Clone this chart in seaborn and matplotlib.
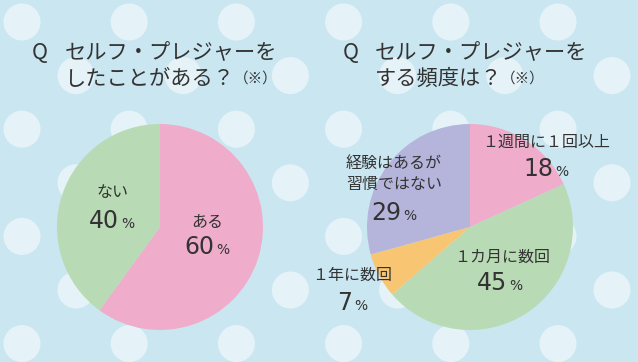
import matplotlib
matplotlib.use("Agg")
import matplotlib.pyplot as plt
from matplotlib.patches import Circle
import seaborn as sns

# --- data -------------------------------------------------------------
q1_title = ["セルフ・プレジャーを", "したことがある？"]
q1_labels = ["ある", "ない"]
q1_values = [60, 40]

q2_title = ["セルフ・プレジャーを", "する頻度は？"]
q2_labels = ["１週間に１回以上", "１カ月に数回", "１年に数回", "経験はあるが\n習慣ではない"]
q2_values = [18, 45, 7, 29]

note = "（※）"

# --- style ------------------------------------------------------------
W, H = 638, 362
BG = "#cae7f1"
DOT = "#e5f3f9"
TXT = "#333333"
PINK = "#efadcb"
GREEN = "#b8dab4"
ORANGE = "#f8c572"
PURPLE = "#b5b5dc"

sns.set_theme(style="white")
plt.rcParams["font.family"] = ["Noto Sans CJK JP", "DejaVu Sans"]

fig = plt.figure(figsize=(W / 100, H / 100), dpi=100, facecolor=BG)
ax = fig.add_axes([0, 0, 1, 1])
ax.set_facecolor(BG)


def sy(y):
    # screen y (top-down) -> data y
    return H - y


# polka dots
row = 0
y = 22.0
while y < H + 30:
    x = 22.0 if row % 2 == 0 else 76.0
    while x < W + 30:
        ax.add_patch(Circle((x, sy(y)), 18.5, color=DOT, lw=0, zorder=0))
        x += 107.2
    y += 53.6
    row += 1

# pies
ax.pie(q1_values, colors=[PINK, GREEN], startangle=90, counterclock=False,
       center=(160, sy(227)), radius=103, wedgeprops=dict(linewidth=0))
ax.pie(q2_values, colors=[PINK, GREEN, ORANGE, PURPLE], startangle=90,
       counterclock=False, center=(470, sy(227)), radius=103,
       wedgeprops=dict(linewidth=0))

ax.set_xlim(0, W)
ax.set_ylim(0, H)
ax.set_aspect("equal")
ax.axis("off")


def title(qx, tx, lines):
    ax.text(qx, sy(53), "Q", ha="center", va="center", fontsize=15.5, color=TXT)
    ax.text(tx, sy(53), lines[0], ha="left", va="center", fontsize=15.3, color=TXT)
    t2 = ax.text(tx, sy(79), lines[1], ha="left", va="center", fontsize=15.3, color=TXT)
    ax.annotate(note, xy=(1, 0.5), xycoords=t2, xytext=(-1, 0),
                textcoords="offset points", ha="left", va="center",
                fontsize=10.5, color=TXT)


title(40, 65, q1_title)
title(351, 375, q2_title)


def label(cx, cy, text, num, base, dx=7):
    ax.text(cx, sy(cy), text, ha="center", va="center", fontsize=11.5,
            color=TXT, linespacing=1.35)
    ax.text(cx + dx, sy(base), str(num), ha="right", va="baseline",
            fontsize=17, color=TXT, family="DejaVu Sans")
    ax.text(cx + dx + 2, sy(base), "%", ha="left", va="baseline",
            fontsize=10, color=TXT, family="DejaVu Sans")


# left pie labels
label(207, 222, q1_labels[0], q1_values[0], 254.5)
label(112, 193, q1_labels[1], q1_values[1], 227.5)

# right pie labels
label(546, 142, q2_labels[0], q2_values[0], 175.5)
label(502, 257, q2_labels[1], q2_values[1], 290.5, dx=5)
label(352, 275, q2_labels[2], q2_values[2], 309.5, dx=0)
label(394, 174, q2_labels[3], q2_values[3], 220.5)

fig.savefig("out.png", dpi=100, facecolor=BG)
